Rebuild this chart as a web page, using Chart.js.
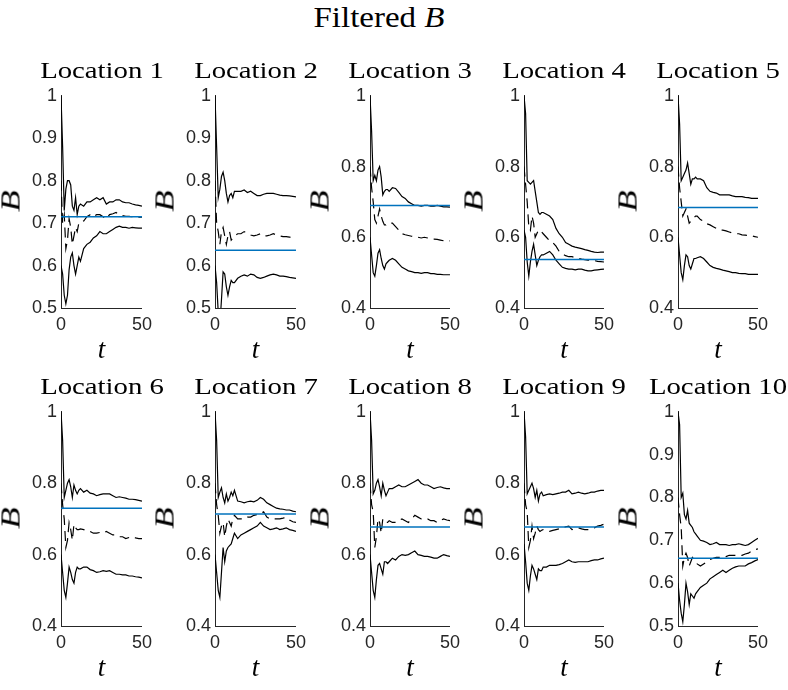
<!DOCTYPE html>
<html>
<head>
<meta charset="utf-8">
<script src="https://cdn.jsdelivr.net/npm/chart.js@4.4.1/dist/chart.umd.min.js"></script>
<style>
  html, body { margin:0; padding:0; background:#fff; width:788px; height:690px; overflow:hidden; }
  #wrap { position:relative; width:788px; height:690px; }
  canvas { position:absolute; }
  .lbl { position:absolute; white-space:nowrap; line-height:1; color:#000; font-family:"Liberation Serif", serif; }
</style>
</head>
<body>
<div id="wrap"></div>
<script>
// ---------- data ----------
const tSteps = [0,1,2,3,4,5,6,7,8,9,10,11,12,14,16,18,20,22,24,26,28,30,32,34,36,38,40,42,44,46,48,50];
const locations = ["Location 1","Location 2","Location 3","Location 4","Location 5",
                   "Location 6","Location 7","Location 8","Location 9","Location 10"];
const trueB = [0.715,0.636,0.69,0.537,0.684,0.73,0.714,0.677,0.677,0.658];
const yMins = [0.5,0.5,0.4,0.4,0.4,0.4,0.4,0.4,0.4,0.5];
const yTicksFine = [0.5,0.6,0.7,0.8,0.9,1];
const yTicksCoarse = [0.4,0.6,0.8,1];
const xTicks = [0,50];

const upperB = [
 [1.0,0.88,0.73,0.78,0.80,0.80,0.79,0.74,0.73,0.76,0.72,0.74,0.745,0.74,0.75,0.75,0.755,0.76,0.755,0.76,0.745,0.75,0.75,0.755,0.755,0.75,0.748,0.748,0.745,0.743,0.742,0.74],
 [1.0,0.88,0.76,0.78,0.81,0.82,0.80,0.77,0.75,0.765,0.77,0.76,0.775,0.775,0.775,0.778,0.772,0.775,0.77,0.765,0.765,0.768,0.77,0.77,0.77,0.768,0.766,0.765,0.765,0.764,0.763,0.762],
 [1.0,0.90,0.76,0.775,0.76,0.79,0.80,0.77,0.72,0.73,0.735,0.735,0.73,0.74,0.738,0.727,0.715,0.71,0.70,0.695,0.69,0.69,0.688,0.69,0.69,0.688,0.688,0.69,0.688,0.686,0.686,0.685],
 [1.0,0.95,0.76,0.755,0.75,0.755,0.76,0.73,0.70,0.67,0.665,0.67,0.67,0.665,0.66,0.65,0.625,0.61,0.60,0.585,0.58,0.575,0.572,0.57,0.568,0.565,0.563,0.56,0.558,0.557,0.558,0.558],
 [1.0,0.92,0.76,0.77,0.78,0.79,0.81,0.78,0.75,0.765,0.765,0.77,0.765,0.765,0.76,0.74,0.73,0.727,0.725,0.72,0.72,0.72,0.72,0.717,0.715,0.715,0.715,0.713,0.712,0.71,0.71,0.71],
 [1.0,0.92,0.76,0.78,0.80,0.81,0.79,0.76,0.795,0.78,0.77,0.78,0.785,0.775,0.78,0.772,0.77,0.765,0.768,0.77,0.77,0.77,0.765,0.76,0.762,0.76,0.758,0.755,0.755,0.754,0.752,0.75],
 [1.0,0.92,0.76,0.775,0.787,0.76,0.745,0.77,0.75,0.76,0.775,0.765,0.78,0.75,0.748,0.745,0.748,0.75,0.748,0.752,0.76,0.755,0.745,0.74,0.735,0.73,0.728,0.727,0.725,0.725,0.722,0.72],
 [1.0,0.92,0.77,0.78,0.80,0.81,0.79,0.765,0.80,0.78,0.765,0.775,0.785,0.785,0.79,0.795,0.79,0.79,0.795,0.80,0.805,0.81,0.80,0.795,0.795,0.79,0.785,0.788,0.79,0.787,0.785,0.785],
 [1.0,0.93,0.77,0.78,0.79,0.80,0.785,0.76,0.78,0.75,0.77,0.775,0.765,0.768,0.77,0.768,0.77,0.772,0.775,0.775,0.78,0.77,0.772,0.775,0.772,0.77,0.772,0.775,0.775,0.778,0.78,0.78],
 [1.0,0.97,0.80,0.81,0.76,0.75,0.77,0.74,0.735,0.73,0.72,0.715,0.71,0.70,0.698,0.695,0.69,0.692,0.695,0.69,0.69,0.69,0.688,0.69,0.69,0.692,0.69,0.688,0.69,0.695,0.70,0.705]
];
const meanB = [
 [0.80,0.70,0.72,0.64,0.66,0.71,0.69,0.65,0.67,0.69,0.68,0.70,0.70,0.705,0.715,0.72,0.715,0.72,0.72,0.715,0.71,0.72,0.722,0.725,0.72,0.718,0.716,0.716,0.715,0.715,0.714,0.714],
 [0.80,0.70,0.68,0.65,0.68,0.69,0.67,0.65,0.67,0.68,0.66,0.665,0.67,0.675,0.675,0.68,0.675,0.672,0.67,0.672,0.675,0.67,0.67,0.672,0.675,0.672,0.67,0.668,0.668,0.667,0.666,0.665],
 [0.80,0.74,0.70,0.65,0.64,0.66,0.68,0.66,0.645,0.635,0.635,0.64,0.64,0.64,0.63,0.62,0.61,0.607,0.605,0.603,0.60,0.60,0.598,0.60,0.598,0.595,0.595,0.594,0.592,0.59,0.59,0.59],
 [0.80,0.75,0.70,0.63,0.62,0.66,0.64,0.60,0.61,0.62,0.62,0.615,0.61,0.60,0.59,0.585,0.575,0.56,0.553,0.548,0.545,0.545,0.542,0.54,0.538,0.537,0.535,0.535,0.534,0.532,0.531,0.53],
 [0.80,0.74,0.70,0.66,0.67,0.68,0.66,0.64,0.645,0.65,0.655,0.66,0.66,0.65,0.645,0.638,0.635,0.63,0.625,0.62,0.62,0.618,0.615,0.612,0.61,0.61,0.607,0.606,0.605,0.604,0.602,0.60],
 [0.80,0.74,0.70,0.62,0.64,0.69,0.67,0.64,0.685,0.675,0.67,0.67,0.672,0.67,0.665,0.665,0.66,0.66,0.662,0.66,0.665,0.66,0.655,0.655,0.65,0.65,0.645,0.648,0.65,0.647,0.645,0.645],
 [0.80,0.74,0.71,0.66,0.68,0.69,0.65,0.68,0.70,0.69,0.68,0.70,0.71,0.70,0.70,0.70,0.705,0.705,0.71,0.712,0.715,0.72,0.705,0.70,0.70,0.70,0.70,0.702,0.705,0.697,0.692,0.69],
 [0.80,0.74,0.72,0.62,0.65,0.70,0.69,0.66,0.70,0.695,0.69,0.69,0.695,0.69,0.69,0.695,0.70,0.695,0.69,0.70,0.71,0.705,0.70,0.70,0.70,0.695,0.695,0.69,0.695,0.70,0.697,0.695],
 [0.80,0.74,0.72,0.62,0.64,0.68,0.645,0.66,0.68,0.67,0.665,0.668,0.67,0.667,0.665,0.668,0.67,0.672,0.675,0.678,0.68,0.67,0.672,0.675,0.672,0.67,0.67,0.673,0.675,0.68,0.682,0.685],
 [0.80,0.76,0.73,0.64,0.66,0.67,0.66,0.64,0.65,0.66,0.655,0.65,0.645,0.64,0.645,0.65,0.655,0.658,0.66,0.66,0.66,0.662,0.665,0.665,0.665,0.665,0.665,0.668,0.67,0.675,0.678,0.68]
];
const lowerB = [
 [0.60,0.58,0.53,0.51,0.53,0.59,0.62,0.63,0.60,0.58,0.60,0.62,0.61,0.64,0.65,0.655,0.665,0.67,0.68,0.675,0.675,0.68,0.685,0.69,0.693,0.69,0.69,0.688,0.69,0.689,0.688,0.688],
 [0.60,0.56,0.49,0.46,0.52,0.585,0.58,0.55,0.53,0.55,0.565,0.56,0.56,0.57,0.575,0.578,0.575,0.58,0.578,0.572,0.57,0.572,0.575,0.578,0.58,0.578,0.575,0.575,0.574,0.572,0.571,0.57],
 [0.60,0.55,0.50,0.49,0.52,0.555,0.565,0.54,0.52,0.51,0.525,0.53,0.535,0.54,0.535,0.525,0.515,0.51,0.505,0.503,0.50,0.50,0.498,0.50,0.50,0.497,0.497,0.495,0.495,0.494,0.494,0.494],
 [0.62,0.60,0.53,0.49,0.53,0.56,0.58,0.55,0.52,0.535,0.545,0.55,0.55,0.555,0.56,0.55,0.535,0.525,0.515,0.512,0.51,0.51,0.508,0.51,0.51,0.507,0.505,0.505,0.507,0.508,0.509,0.51],
 [0.60,0.55,0.50,0.48,0.52,0.55,0.545,0.52,0.51,0.525,0.54,0.54,0.542,0.545,0.54,0.53,0.52,0.515,0.512,0.51,0.507,0.505,0.503,0.50,0.50,0.498,0.497,0.497,0.495,0.495,0.495,0.495],
 [0.60,0.55,0.50,0.48,0.52,0.565,0.55,0.53,0.52,0.55,0.565,0.56,0.56,0.565,0.565,0.558,0.555,0.55,0.552,0.555,0.553,0.555,0.55,0.545,0.545,0.543,0.543,0.54,0.54,0.538,0.537,0.535],
 [0.60,0.55,0.50,0.48,0.55,0.62,0.58,0.61,0.62,0.625,0.63,0.645,0.66,0.645,0.655,0.66,0.665,0.67,0.675,0.68,0.69,0.68,0.675,0.67,0.672,0.675,0.67,0.672,0.675,0.67,0.668,0.665],
 [0.60,0.55,0.50,0.48,0.53,0.57,0.575,0.56,0.545,0.58,0.58,0.575,0.58,0.59,0.585,0.595,0.60,0.598,0.60,0.605,0.61,0.60,0.598,0.595,0.595,0.593,0.59,0.59,0.595,0.60,0.597,0.595],
 [0.63,0.58,0.52,0.50,0.54,0.57,0.56,0.545,0.53,0.56,0.555,0.555,0.565,0.565,0.57,0.57,0.57,0.572,0.575,0.58,0.585,0.58,0.578,0.58,0.58,0.58,0.58,0.583,0.585,0.585,0.588,0.59],
 [0.60,0.56,0.53,0.51,0.55,0.60,0.58,0.55,0.575,0.57,0.565,0.575,0.58,0.59,0.595,0.60,0.61,0.615,0.62,0.625,0.63,0.625,0.63,0.635,0.638,0.64,0.64,0.64,0.645,0.648,0.652,0.655]
];

// ---------- layout ----------
const panelLefts = [61,215,370,524,678];
const panelWidths = [81,81,80,80,80];
const rowTops = [93,409];
const rowHeights = [215,217];
const AXW = 60, PADT = 12, PADR = 16, AXH = 30;
const AXIS_COLOR = '#262626';

const wrap = document.getElementById('wrap');

function addLabel(html, opts) {
  const d = document.createElement('div');
  d.className = 'lbl';
  d.innerHTML = html;
  d.style.fontSize = opts.size + 'px';
  if (opts.italic) d.style.fontStyle = 'italic';
  d.style.left = opts.x + 'px';
  d.style.top = opts.y + 'px';
  d.style.transform = opts.transform;
  d.style.transformOrigin = 'center center';
  wrap.appendChild(d);
}

// main title
addLabel('Filtered <i>B</i>', {size:30, x:379, y:27.5 - 0.8375*30, transform:'translateX(-50%) scaleX(1.1)'});

function toPts(vals) { return tSteps.map((t, i) => ({x: t, y: vals[i]})); }

for (let k = 0; k < 10; k++) {
  const row = Math.floor(k / 5), col = k % 5;
  const L = panelLefts[col], W = panelWidths[col];
  const T = rowTops[row], H = rowHeights[row];
  const cv = document.createElement('canvas');
  cv.width = AXW + W + PADR;
  cv.height = PADT + H + AXH;
  cv.style.left = (L - AXW) + 'px';
  cv.style.top = (T - PADT) + 'px';
  wrap.appendChild(cv);

  const yTicks = yMins[k] === 0.5 ? yTicksFine : yTicksCoarse;

  new Chart(cv, {
    type: 'line',
    data: {
      datasets: [
        { data: [{x:0, y:trueB[k]}, {x:50, y:trueB[k]}], borderColor:'#0072BD', borderWidth:1.5 },
        { data: toPts(upperB[k]), borderColor:'#000', borderWidth:1.2 },
        { data: toPts(meanB[k]),  borderColor:'#000', borderWidth:1.2, borderDash:[10,6] },
        { data: toPts(lowerB[k]), borderColor:'#000', borderWidth:1.2 }
      ]
    },
    options: {
      responsive: false,
      animation: false,
      layout: { padding: { left:0, top:PADT, right:PADR, bottom:0 } },
      plugins: { legend: { display:false }, tooltip: { enabled:false } },
      elements: { point: { radius:0 }, line: { tension:0, fill:false } },
      scales: {
        x: {
          type: 'linear', min: 0, max: 50,
          afterBuildTicks: s => { s.ticks = xTicks.map(v => ({value:v})); },
          afterFit: s => { s.height = AXH; },
          grid: { display:false, drawTicks:false },
          border: { display:true, color:AXIS_COLOR, width:1 },
          ticks: { color:AXIS_COLOR, font:{ family:'"Liberation Sans", Arial, sans-serif', size:18 }, padding:6, maxRotation:0, autoSkip:false }
        },
        y: {
          type: 'linear', min: yMins[k], max: 1,
          afterBuildTicks: s => { s.ticks = yTicks.map(v => ({value:v})); },
          afterFit: s => { s.width = AXW; },
          grid: { display:false, drawTicks:false },
          border: { display:true, color:AXIS_COLOR, width:1 },
          ticks: { color:AXIS_COLOR, font:{ family:'"Liberation Sans", Arial, sans-serif', size:18 }, padding:4, autoSkip:false,
                   callback: v => String(Math.round(v*10)/10) }
        }
      }
    }
  });

  const cx = L + W / 2;
  // panel title
  addLabel(locations[k], {size:23, x:cx, y:(T - 15) - 0.8375*23, transform:'translateX(-50%) scaleX(1.25)'});
  // x label
  addLabel('t', {size:27, italic:true, x:cx, y:(T + H + 51) - 0.8375*27, transform:'translateX(-50%)'});
  // y label
  addLabel('B', {size:27, italic:true, x:L - 50, y:T + H/2, transform:'translate(-50%,-50%) rotate(-90deg) scaleX(1.3)'});
}
</script>
</body>
</html>
